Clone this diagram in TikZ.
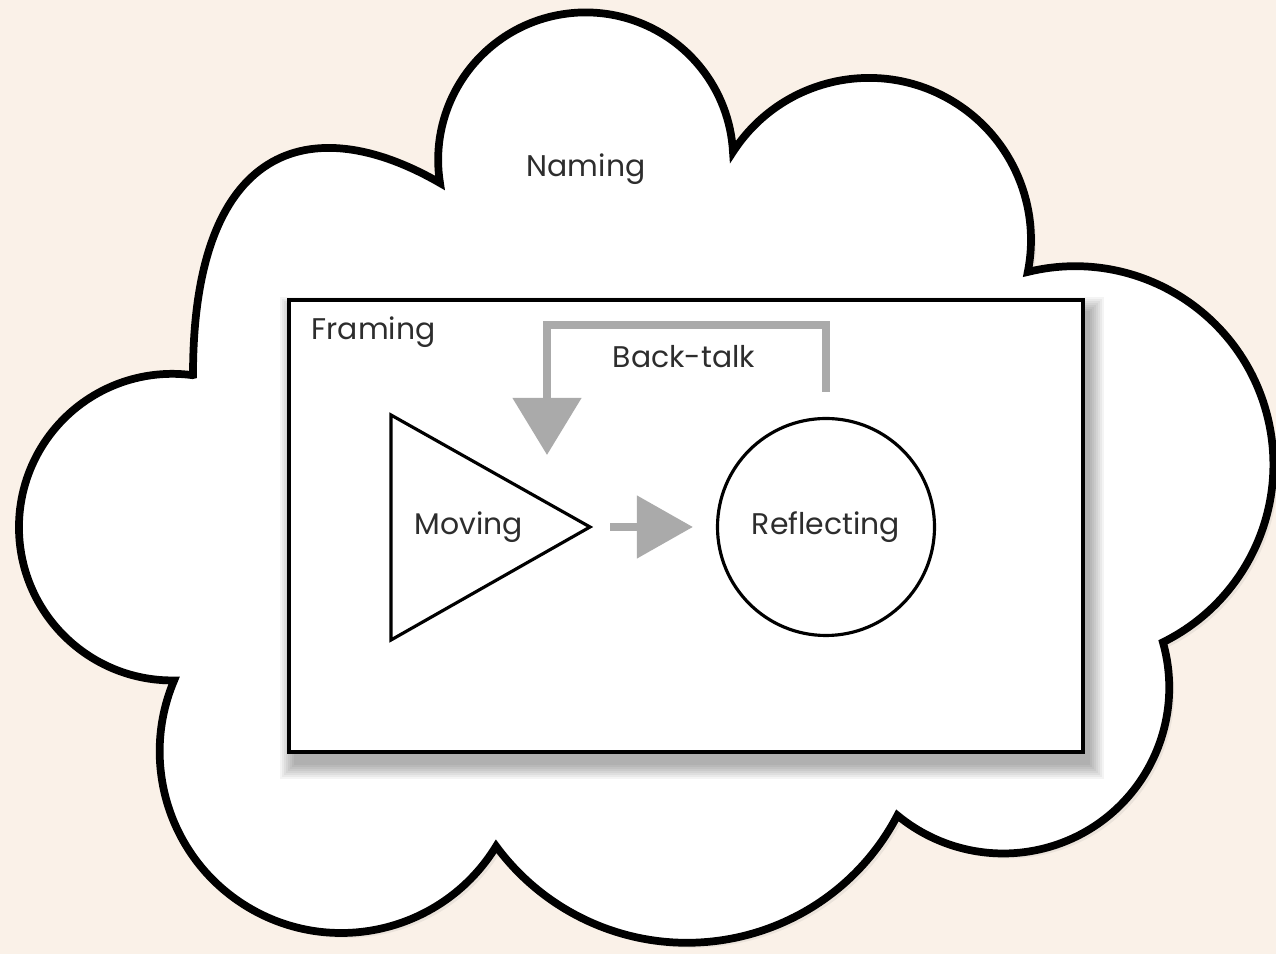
\documentclass[tikz,border=0pt]{standalone}
\usepackage{fontspec}
\setmainfont{Poppins}
\usepackage{xcolor}
\usepackage{tikz}
\usetikzlibrary{arrows.meta,shadows,positioning}

\definecolor{bgcream}{RGB}{250,241,232}
\definecolor{arrowgray}{RGB}{170,170,170}
\definecolor{textdark}{RGB}{45,45,45}

\begin{document}
\begin{tikzpicture}[
    txt/.style={font=\fontsize{8.5}{10}\selectfont, text=textdark, inner sep=0pt},
    cloudline/.style={draw=black, line width=2.2pt, fill=white, drop shadow={opacity=0.12, shadow xshift=0.05cm, shadow yshift=-0.05cm}},
    framebox/.style={draw=black, line width=1pt, fill=white},
    shapeline/.style={draw=black, line width=0.9pt, fill=white},
    shadowlayer/.style={fill=black, opacity=0.045},
    fwdarrow/.style={arrowgray, line width=2.3pt, -{Triangle[length=5.6mm, width=6.1mm]}},
    backarrow/.style={arrowgray, line width=2.3pt, -{Triangle[length=5.7mm, width=6.7mm]}},
]
    \useasboundingbox (0,0) rectangle (12.76,-9.54);
    \fill[bgcream] (0,0) rectangle (12.76,-9.54);

    % Naming cloud
    \draw[cloudline] (1.93,-3.75)
        .. controls (1.93,-1.45) and (3.10,-1.08) .. (4.40,-1.83)
        arc[start angle=189.0, end angle=3.1, radius=1.475]
        arc[start angle=147.1, end angle=-11.4, radius=1.62]
        arc[start angle=103.8, end angle=-63.7, radius=1.983]
        arc[start angle=15.8, end angle=-129.6, radius=1.66]
        arc[start angle=-27.6, end angle=-143.6, radius=2.373]
        arc[start angle=-31.5, end angle=-203.0, radius=1.816]
        arc[start angle=-89.3, end angle=-277.5, radius=1.533]
        -- cycle;
    \node[txt, anchor=base] (naming) at (5.86,-1.77) {Naming};

    % Framing box with soft shadow
    \coordinate (fnw) at (2.89,-3.00);
    \coordinate (fse) at (10.83,-7.52);
    \foreach \s in {0.01,0.03,0.05,0.07,0.09,0.11,0.13,0.15}
        \fill[shadowlayer] ([shift={(0.06-\s,-0.12+\s)}]fnw) rectangle ([shift={(0.06+\s,-0.12-\s)}]fse);
    \draw[framebox] (fnw) rectangle (fse);
    \node[txt, anchor=base west] (framing) at (3.11,-3.40) {Framing};

    % Moving and reflecting
    \draw[shapeline] (3.91,-4.15) -- (5.90,-5.27) coordinate (movtip) -- (3.91,-6.40) -- cycle;
    \node[txt] (moving) at (4.69,-5.27) {Moving};
    \node[circle, shapeline, minimum size=2.17cm, txt] (reflect) at (8.26,-5.27) {Reflecting};

    % Arrows
    \draw[fwdarrow, shorten <=0.20cm, shorten >=0.23cm] (movtip) -- (reflect.west);
    \coordinate (bttip) at (5.47,-4.55);
    \draw[backarrow] ([yshift=0.25cm]reflect.north) -- ++(0,0.67) -| (bttip);
    \node[txt, anchor=base] (backtalk) at (6.84,-3.68) {Back-talk};
\end{tikzpicture}
\end{document}
